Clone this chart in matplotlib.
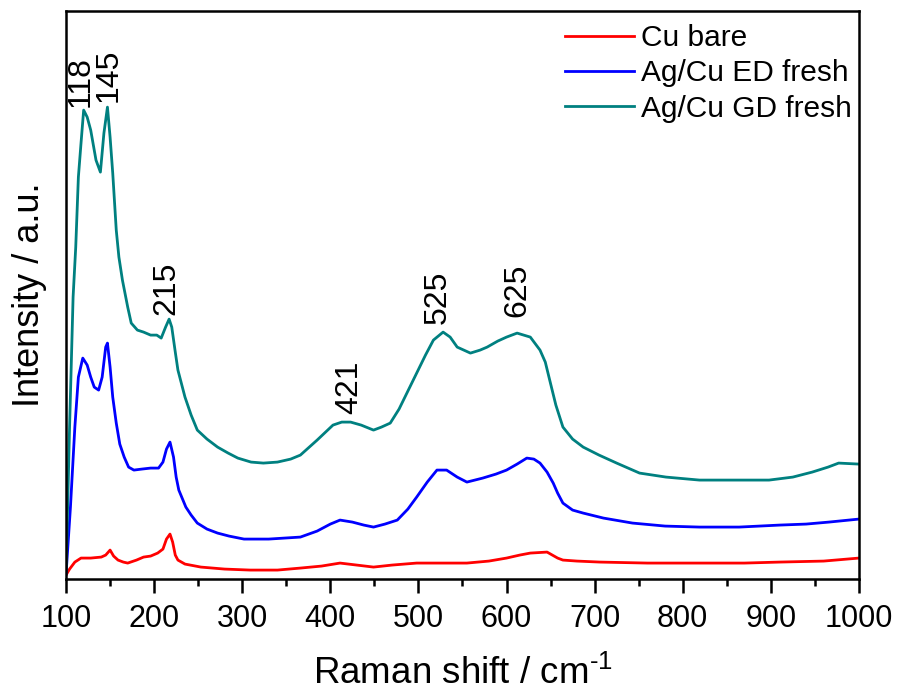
import matplotlib
matplotlib.use("Agg")
import matplotlib.pyplot as plt
from matplotlib.ticker import MultipleLocator

plt.rcParams['font.family'] = ['Liberation Sans', 'DejaVu Sans']
plt.rcParams['mathtext.fontset'] = 'custom'
plt.rcParams['mathtext.rm'] = 'Liberation Sans'
plt.rcParams['mathtext.it'] = 'Liberation Sans:italic'

# ---- data (arbitrary intensity units) ----
gd_x = [100, 104, 108, 111, 114, 117, 120, 124, 128, 134, 139, 143, 147, 150, 153, 157,
        160, 164, 170, 174, 181, 188, 196, 203, 208, 213, 217, 220, 224, 227, 235, 242,
        249, 260, 272, 284, 295, 310, 324, 340, 355, 366, 385, 403, 413, 423, 435, 449,
        458, 468, 478, 488, 498, 508, 517, 528, 536, 544, 559, 570, 578, 590, 600, 612,
        627, 638, 644, 649, 656, 664, 675, 687, 705, 725, 751, 781, 819, 853, 898, 925,
        947, 965, 977, 1000]
gd_y = [5, 150, 280, 330, 400, 434, 467, 460, 447, 417, 405, 444, 470, 440, 404, 347,
        320, 297, 270, 254, 247, 245, 242, 242, 239, 250, 258, 250, 225, 207, 180, 162,
        147, 138, 130, 124, 119, 115, 114, 115, 118, 122, 137, 152, 155, 155, 152, 147,
        150, 154, 168, 186, 204, 222, 237, 245, 240, 230, 224, 227, 230, 236, 240, 244,
        240, 227, 215, 197, 172, 150, 138, 130, 122, 114, 104, 100, 97, 97, 97, 100,
        105, 110, 114, 113]

ed_x = [100, 105, 110, 114, 119, 124, 128, 132, 137, 141, 145, 147, 150, 153, 157, 161,
        166, 171, 177, 186, 196, 205, 210, 214, 218, 222, 225, 228, 236, 242, 249, 260,
        272, 285, 302, 330, 366, 385, 400, 411, 425, 438, 449, 462, 476, 488, 498, 510,
        521, 532, 544, 555, 573, 588, 600, 612, 623, 631, 638, 646, 653, 658, 664, 675,
        687, 710, 743, 780, 819, 864, 910, 940, 966, 1000]
ed_y = [3, 70, 150, 200, 219, 212, 200, 190, 187, 200, 230, 234, 210, 180, 154, 133,
        120, 110, 107, 108, 109, 109, 115, 128, 135, 120, 100, 87, 70, 62, 54, 48,
        44, 41, 38, 38, 40, 46, 53, 57, 55, 52, 50, 53, 57, 68, 80, 95,
        107, 107, 100, 95, 99, 103, 107, 113, 119, 118, 114, 105, 94, 84, 74, 67,
        64, 59, 54, 51, 50, 50, 52, 53, 55, 58]

cu_x = [100, 104, 110, 117, 128, 140, 145, 150, 154, 159, 165, 170, 180, 188, 196, 204,
        210, 214, 218, 221, 224, 227, 235, 253, 280, 309, 340, 366, 390, 411, 430, 449,
        470, 498, 555, 580, 600, 615, 627, 646, 652, 658, 664, 680, 706, 760, 819, 870,
        910, 960, 1000]
cu_y = [2, 8, 15, 19, 19, 20, 22, 27, 21, 17, 15, 14, 17, 20, 21, 24,
        28, 38, 43, 35, 22, 17, 13, 10, 8, 7, 7, 9, 11, 14, 12, 10,
        12, 14, 14, 16, 19, 22, 24, 25, 22, 19, 17, 16, 15, 14, 14, 14,
        15, 16, 19]

series_labels = ["Cu bare", "Ag/Cu ED fresh", "Ag/Cu GD fresh"]
peak_labels = ["118", "145", "215", "421", "525", "625"]

# annotation anchor positions (text placement)
peak_text_x = [116, 148, 214, 421, 522, 612]
peak_text_y = [470, 475, 262, 163, 253, 260]

# ---- figure ----
fig = plt.figure(figsize=(9.01, 6.96), dpi=100)
ax = fig.add_axes([0.0733, 0.168, 0.880, 0.816])

ax.plot(cu_x, cu_y, color='#ff0000', lw=2.0, label=series_labels[0])
ax.plot(ed_x, ed_y, color='#0000ff', lw=2.0, label=series_labels[1])
ax.plot(gd_x, gd_y, color='#008080', lw=2.0, label=series_labels[2])

for lab, tx, ty in zip(peak_labels, peak_text_x, peak_text_y):
    ax.text(tx, ty, lab, rotation=90, ha='center', va='bottom', fontsize=23)

ax.set_xlim(100, 1000)
ax.set_ylim(-2, 566)
ax.xaxis.set_major_locator(MultipleLocator(100))
ax.xaxis.set_minor_locator(MultipleLocator(50))
ax.set_yticks([])
ax.tick_params(axis='x', which='major', direction='out', length=10, width=1.8,
               labelsize=22, pad=8, top=False)
ax.tick_params(axis='x', which='minor', direction='out', length=5, width=1.8, top=False)
for sp in ax.spines.values():
    sp.set_linewidth(1.8)

ax.set_xlabel("Raman shift / cm$^{\\text{-1}}$", fontsize=26.5, labelpad=16)
ax.set_ylabel("Intensity / a.u.", fontsize=26, labelpad=14)

leg = ax.legend(loc='upper right', bbox_to_anchor=(1.0, 0.99), frameon=False,
                fontsize=21.5, handlelength=2.3, handletextpad=0.22,
                labelspacing=0.24, borderaxespad=0.0, borderpad=0.25)

fig.savefig("out.png", dpi=100)
